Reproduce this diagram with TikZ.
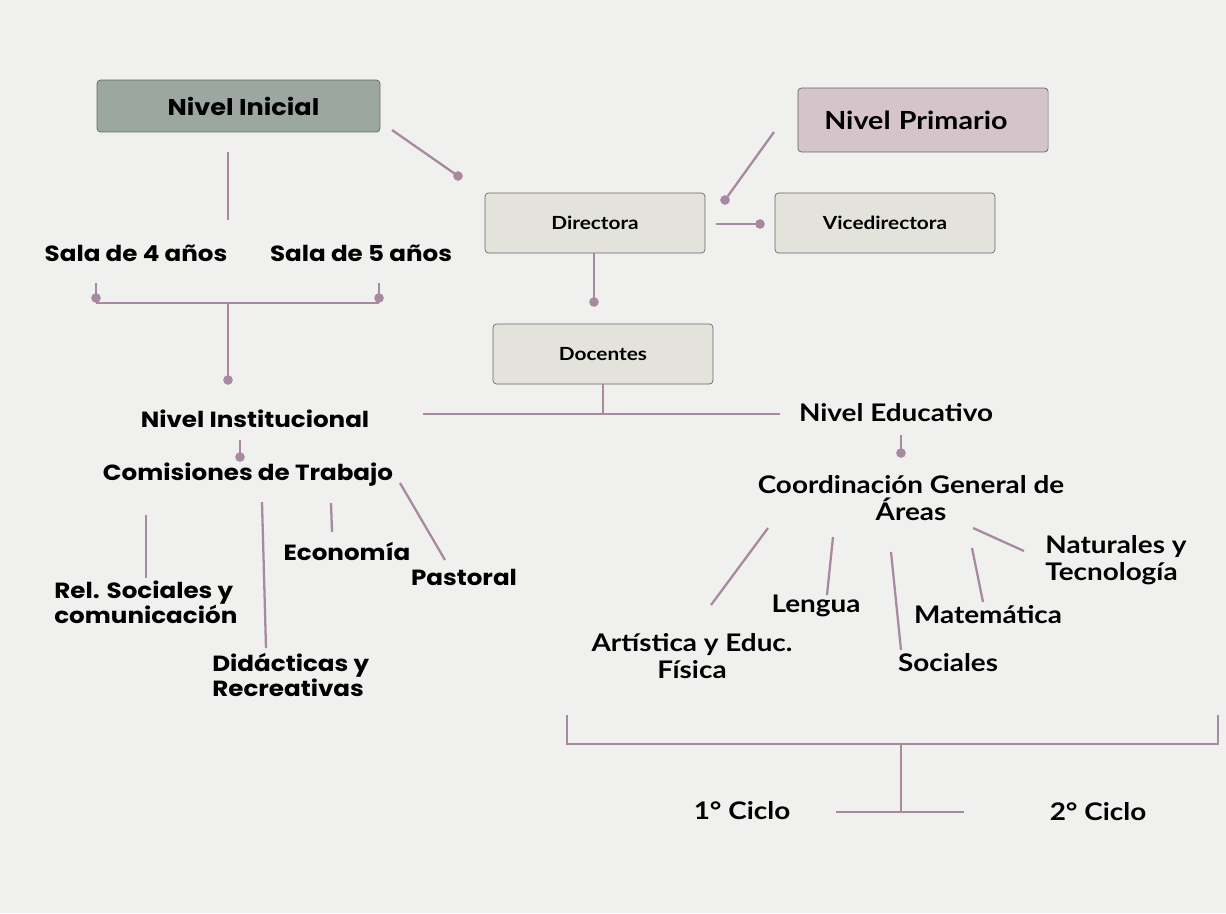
\documentclass[tikz,border=0pt]{standalone}
\usepackage{fontspec}
\setmainfont{Poppins}[FakeStretch=1.12]
\newfontfamily\gothfont{Lato}[FakeStretch=1.15]
\usetikzlibrary{positioning}
\definecolor{mline}{RGB}{168,138,160}
\definecolor{mpaper}{RGB}{240,240,239}
\definecolor{mgreen}{RGB}{155,167,160}
\definecolor{mrose}{RGB}{214,196,203}
\definecolor{mbox}{RGB}{227,227,220}
\tikzset{circ/.style = {fill=mline, circle, inner sep = 0, minimum size = 5.5}}
\tikzset{box/.style = {draw=black!60, rounded corners=2pt, fill=mbox, inner sep=0,
                       font=\gothfont\bfseries\fontsize{10.3}{12}\selectfont}}
\tikzset{lbox/.style = {box, align=left, inner xsep=15pt}}
\tikzset{wide/.style = {font=\bfseries\fontsize{12.5}{14}\selectfont, align=left, inner sep=0}}
\tikzset{goth/.style = {font=\gothfont\bfseries\fontsize{13.8}{15}\selectfont, align=center, inner sep=0}}
\tikzset{link/.style = {mline, line width=1.3pt}}

\begin{document}
\begin{tikzpicture}[x=0.02cm, y=-0.02cm]
          \fill [mpaper] (0, 0) rectangle (1226, 913);
          \useasboundingbox (0, 0) rectangle (1226, 913);

          % cajas
          \node [box, fill=mgreen, minimum width=5.66cm, minimum height=1.04cm,
                 font=\bfseries\fontsize{13}{15}\selectfont] (ini) at (238.5, 106) {\hspace*{5.7pt}Nivel Inicial};
          \node [lbox, fill=mrose, text width=3.95cm, minimum height=1.28cm,
                 font=\gothfont\bfseries\fontsize{14.2}{17}\selectfont] (pri) at (923, 120) {Nivel Primario};
          \node [box, minimum width=4.4cm, minimum height=1.2cm] (dir) at (595, 223) {Directora};
          \node [box, minimum width=4.4cm, minimum height=1.2cm] (vice) at (885, 223) {Vicedirectora};
          \node [box, minimum width=4.4cm, minimum height=1.2cm] (doc) at (603, 354) {Docentes};

          % textos
          \node [wide] (sala4) at (136, 253) {Sala de 4 años};
          \node [wide] (sala5) at (361, 253) {Sala de 5 años};
          \node [wide] (inst) at (255, 419) {Nivel Institucional};
          \node [wide] (com) at (248, 475) {Comisiones de Trabajo};
          \node [wide, anchor=west] (rel) at (54, 602) {Rel. Sociales y\\comunicación};
          \node [wide, anchor=west] (did) at (212, 675) {Didácticas y\\Recreativas};
          \node [wide] (eco) at (347, 551) {Economía};
          \node [wide] (pas) at (464, 577) {Pastoral};

          \node [goth] (edu) at (896, 413) {Nivel Educativo};
          \node [goth] (coord) at (911, 498) {Coordinación General de\\Áreas};
          \node [goth] (art) at (692, 656) {Artística y Educ.\\Física};
          \node [goth] (len) at (816, 606) {Lengua};
          \node [goth] (soc) at (948, 663) {Sociales};
          \node [goth] (mat) at (988, 615) {Matemática};
          \node [goth, align=left, anchor=west] (nat) at (1045, 560) {Naturales y\\Tecnología};
          \node [goth] (c1) at (742, 811) {1° Ciclo};
          \node [goth] (c2) at (1098, 812) {2° Ciclo};

          % puntos
          \node [circ] (p1) at (458, 176) {};
          \node [circ] (p2) at (725, 200) {};
          \node [circ] (p3) at (760, 224) {};
          \node [circ] (p4) at (594, 302) {};
          \node [circ] (p5) at (96, 298) {};
          \node [circ] (p6) at (379, 298) {};
          \node [circ] (p7) at (228, 380) {};
          \node [circ] (p8) at (240, 457) {};
          \node [circ] (p9) at (901, 453) {};

          % extremos
          \coordinate (a1) at (392, 130);
          \coordinate (a2) at (774, 132);
          \coordinate (a3) at (716, 224);
          \coordinate (a4) at (594, 253);
          \coordinate (a5) at (228, 152);
          \coordinate (a6) at (228, 220);
          \coordinate (a7) at (96, 283);
          \coordinate (a8) at (379, 283);
          \coordinate (a9) at (96, 303);
          \coordinate (a10) at (379, 303);
          \coordinate (a11) at (228, 303);
          \coordinate (b1) at (603, 384);
          \coordinate (b2) at (603, 414);
          \coordinate (b3) at (423, 414);
          \coordinate (b4) at (780, 414);
          \coordinate (b5) at (240, 440);
          \coordinate (b6) at (901, 435);

          \coordinate (c1a) at (146, 515);
          \coordinate (c1b) at (146, 578);
          \coordinate (c2a) at (262, 502);
          \coordinate (c2b) at (266, 648);
          \coordinate (c3a) at (331, 503);
          \coordinate (c3b) at (332, 532);
          \coordinate (c4a) at (400, 483);
          \coordinate (c4b) at (445, 560);

          \coordinate (d1a) at (768, 528);
          \coordinate (d1b) at (711, 605);
          \coordinate (d2a) at (833, 537);
          \coordinate (d2b) at (827, 595);
          \coordinate (d3a) at (891, 552);
          \coordinate (d3b) at (901, 650);
          \coordinate (d4a) at (972, 548);
          \coordinate (d4b) at (983, 602);
          \coordinate (d5a) at (973, 528);
          \coordinate (d5b) at (1024, 551);

          \coordinate (e1) at (567, 715);
          \coordinate (e2) at (567, 744);
          \coordinate (e3) at (1218, 744);
          \coordinate (e4) at (1218, 715);
          \coordinate (e5) at (901, 744);
          \coordinate (e6) at (901, 812);
          \coordinate (e7) at (836, 812);
          \coordinate (e8) at (964, 812);

          % lineas
          \draw [link] (a1) -- (p1.center);
          \draw [link] (a2) -- (p2.center);
          \draw [link] (a3) -- (p3.center);
          \draw [link] (a4) -- (p4.center);
          \draw [link] (a5) -- (a6);
          \draw [link] (a7) -- (p5.center);
          \draw [link] (a8) -- (p6.center);
          \draw [link] (a9) -- (a10);
          \draw [link] (a11) -- (p7.center);
          \draw [link] (b1) -- (b2);
          \draw [link] (b3) -- (b4);
          \draw [link] (b5) -- (p8.center);
          \draw [link] (b6) -- (p9.center);
          \draw [link] (c1a) -- (c1b);
          \draw [link] (c2a) -- (c2b);
          \draw [link] (c3a) -- (c3b);
          \draw [link] (c4a) -- (c4b);
          \draw [link] (d1a) -- (d1b);
          \draw [link] (d2a) -- (d2b);
          \draw [link] (d3a) -- (d3b);
          \draw [link] (d4a) -- (d4b);
          \draw [link] (d5a) -- (d5b);
          \draw [link] (e1) -- (e2) -- (e3) -- (e4);
          \draw [link] (e5) -- (e6);
          \draw [link] (e7) -- (e8);
        \end{tikzpicture}
\end{document}
